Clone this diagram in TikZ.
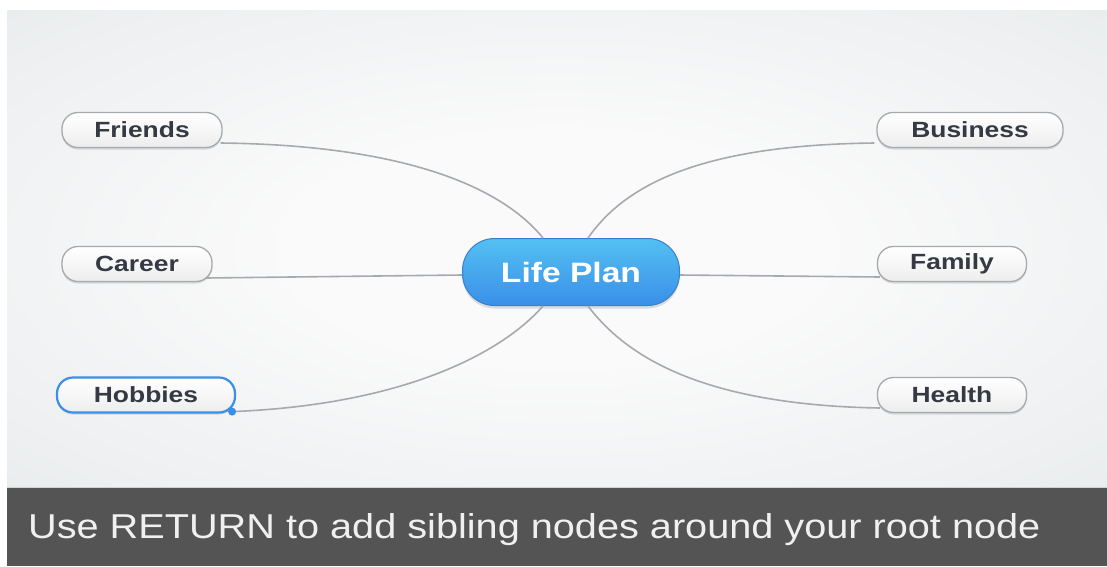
\documentclass[tikz,border=0pt]{standalone}
\usepackage{fontspec}
\newfontfamily\mapfont[FakeStretch=1.2]{Liberation Sans}
\newfontfamily\tipfont[FakeStretch=1.15]{Liberation Sans}
\definecolor{mpink}{HTML}{343943}
\definecolor{mpline}{HTML}{A6AAAE}
\definecolor{mpblue}{HTML}{3A8FE8}
\definecolor{mpbar}{HTML}{545454}
\definecolor{mpglowin}{HTML}{FAFAFA}
\definecolor{mpglowout}{HTML}{DCE1E4}
\usepackage{tikz}
\usetikzlibrary{calc, shadows}
\pgfdeclareradialshading{panelglow}{\pgfpoint{0bp}{0bp}}{color(0bp)=(mpglowin); color(12bp)=(mpglowin); color(32bp)=(mpglowin!55!mpglowout); color(52bp)=(mpglowout); color(80bp)=(mpglowout)}

\begin{document}
\begin{tikzpicture}[x=1pt, y=-1pt,
    leaf/.style={draw=mpline, line width=1.3pt, top color=white, bottom color=black!7, rounded corners=16pt, minimum height=35pt, inner sep=0pt, text=mpink, font=\mapfont\bfseries\fontsize{22}{22}\selectfont, drop shadow={shadow xshift=0pt, shadow yshift=-2pt, opacity=0.25}},
    root/.style={draw=mpblue!90!black, line width=1pt, top color=mpblue!70!cyan!80!white, bottom color=mpblue, rounded corners=32pt, minimum width=217pt, minimum height=67pt, inner sep=0pt, text=white, font=\mapfont\bfseries\fontsize{28}{28}\selectfont, drop shadow={shadow xshift=0pt, shadow yshift=-3pt, opacity=0.25}},
    link/.style={draw=mpline, line width=1.6pt}]
        % page and panel
        \useasboundingbox (0,0) rectangle (1107,566);
        \fill[white] (0,0) rectangle (1107,566);
        \shade[shading=panelglow] (7,10) rectangle (1107,487);
        \fill[mpbar] (7,487) rectangle (1107,566);
        \draw[black!18, line width=1pt] (7,487) -- (1107,487);

        \node[root] (plan) at (571,272) {Life Plan};
        \node[leaf, minimum width=160pt] (friends) at (142,130) {Friends};
        \node[leaf, minimum width=150pt] (career) at (137,264) {Career};
        \node[leaf, minimum width=178pt, draw=mpblue, line width=2.2pt] (hobbies) at (146,395) {Hobbies};
        \node[leaf, minimum width=186pt] (business) at (970,130) {Business};
        \node[leaf, minimum width=149pt] (family) at (952,264) {Family};
        \node[leaf, minimum width=149pt] (health) at (952,395) {Health};
        \coordinate (grip) at ($(hobbies.south east)+(-4,-2)$);

        \draw[link] ($(friends.east)+(-2,13)$) .. controls (400,145) and (500,185) .. ($(plan.north)+(-28,0)$);
        \draw[link] ($(career.east)+(-7,14)$) -- ($(plan.west)+(0,3)$);
        \draw[link] (grip) .. controls (400,405) and (500,355) .. ($(plan.south)+(-28,0)$);
        \draw[link] ($(business.west)+(-2,13)$) .. controls (700,145) and (625,185) .. ($(plan.north)+(17,0)$);
        \draw[link] ($(family.west)+(3,13)$) -- ($(plan.east)+(0,3)$);
        \draw[link] ($(health.west)+(3,13)$) .. controls (700,405) and (625,355) .. ($(plan.south)+(17,0)$);
        \fill[mpblue] (grip) circle (4pt);

        \node[anchor=base west, text=white!94!black, font=\tipfont\fontsize{34.5}{34.5}\selectfont, inner sep=0pt] (tip) at (28,538) {Use RETURN to add sibling nodes around your root node};
      \end{tikzpicture}
\end{document}
